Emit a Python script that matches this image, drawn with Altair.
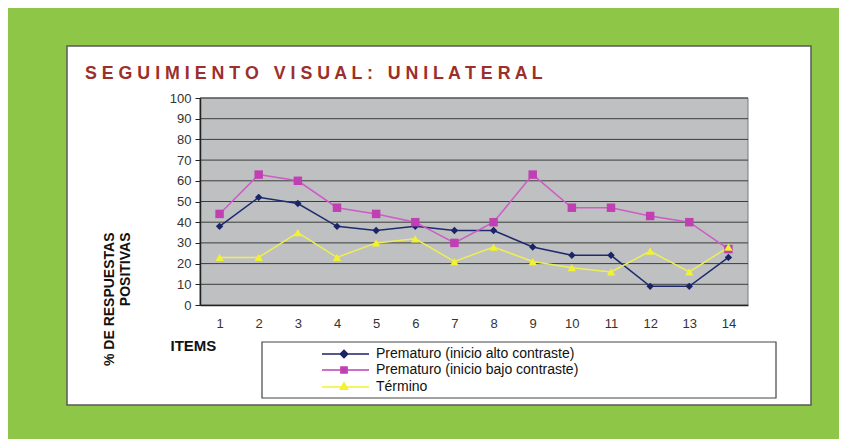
import altair as alt
import pandas as pd

# ---- data ----
items = list(range(1, 15))
alto = [38, 52, 49, 38, 36, 38, 36, 36, 28, 24, 24, 9, 9, 23]
bajo = [44, 63, 60, 47, 44, 40, 30, 40, 63, 47, 47, 43, 40, 27]
termino = [23, 23, 35, 23, 30, 32, 21, 28, 21, 18, 16, 26, 16, 28]
series = [
    "Prematuro (inicio alto contraste)",
    "Prematuro (inicio bajo contraste)",
    "Término",
]
grid_values = list(range(10, 101, 10))
y_ticks = list(range(0, 101, 10))
NB = "\u00a0"
title_text = (
    "S E G U I M I E N T O" + NB * 3 + "V I S U A L :" + NB * 3 + "U N I L A T E R A L"
)

rows = []
for s, vals in zip(series, [alto, bajo, termino]):
    for i, v in zip(items, vals):
        rows.append({"item": i, "serie": s, "valor": v})
df = pd.DataFrame(rows)

W, H = 548, 207
FONT = "Liberation Sans"

line_colors = ["#1F2A6E", "#CF5BC6", "#EEEE55"]
marker_colors = ["#1B2566", "#C040B4", "#F2F230"]
marker_shapes = ["diamond", "square", "triangle-up"]
marker_sizes = [55, 72, 70]


# legend symbol: a line with a (solid-looking) marker drawn by concentric outlines
def _diamond(cx, r):
    return f"M{cx},{-r}L{cx + r},0L{cx},{r}L{cx - r},0Z"


def _square(cx, r):
    return f"M{cx - r},{-r}H{cx + r}V{r}H{cx - r}Z"


def _triangle(cx, r):
    return f"M{cx},{-r}L{cx + 0.87 * r:.3f},{0.5 * r}L{cx - 0.87 * r:.3f},{0.5 * r}Z"


LINE = "M-8.8,0H0.6"
CX = -4.4
legend_paths = [
    LINE + "".join(_diamond(CX, r) for r in (0.75, 0.5, 0.25)),
    LINE + "".join(_square(CX, r) for r in (0.62, 0.36, 0.1)),
    LINE + "".join(_triangle(CX, r) for r in (0.85, 0.55, 0.25)),
]

yscale = alt.Scale(domain=[0, 100], nice=False)
X = alt.X(
    "item:O",
    scale=alt.Scale(type="point", padding=0.5),
    axis=alt.Axis(
        labelAngle=0, ticks=False, domainColor="#222", domainWidth=1.5,
        labelPadding=12, labelFont=FONT, labelFontSize=13, labelColor="#333",
        title="ITEMS", titleX=-30, titleY=40, titleAlign="left",
        titleBaseline="middle", titleFont=FONT, titleFontSize=15,
        titleFontWeight="bold", titleColor="#111", zindex=1,
    ),
)
y_axis = alt.Axis(
    values=y_ticks, grid=False, tickSize=5, tickColor="#222",
    domainColor="#222", domainWidth=1.5, labelPadding=4,
    labelFont=FONT, labelFontSize=13, labelColor="#333",
    title=["% DE RESPUESTAS", "POSITIVAS"], titleX=-91, titleY=134,
    titleAngle=270, titleAlign="right", titleBaseline="middle",
    titleFont=FONT, titleFontSize=14, titleFontWeight="bold",
    titleColor="#111", zindex=1,
)
Y = alt.Y("valor:Q", scale=yscale, axis=y_axis)

one = pd.DataFrame({"k": [1]})
frame = alt.Chart(one).mark_rect(fill="white", stroke="#5a5a5a", strokeWidth=1.5).encode(
    x=alt.value(-133), x2=alt.value(611), y=alt.value(-52), y2=alt.value(307)
)
plotbg = alt.Chart(one).mark_rect(fill="#BEC0C2", stroke="#7a7a7a", strokeWidth=1).encode(
    x=alt.value(0), x2=alt.value(W), y=alt.value(0), y2=alt.value(H)
)
legendbox = alt.Chart(one).mark_rect(fill="white", stroke="#444", strokeWidth=1.2).encode(
    x=alt.value(62), x2=alt.value(576), y=alt.value(244), y2=alt.value(300)
)
grid = alt.Chart(pd.DataFrame({"g": grid_values})).mark_rule(color="#3c3c3c", strokeWidth=1).encode(
    y=alt.Y("g:Q", scale=yscale, axis=y_axis), x=alt.value(0), x2=alt.value(W)
)

series_layers = []
for s, lc in zip(series, line_colors):
    sub = df[df["serie"] == s]
    series_layers.append(
        alt.Chart(sub).mark_line(strokeWidth=1.5, color=lc).encode(x=X, y=Y)
    )
for s, mc, shp, sz in zip(series, marker_colors, marker_shapes, marker_sizes):
    sub = df[df["serie"] == s]
    series_layers.append(
        alt.Chart(sub).mark_point(
            filled=True, opacity=1, fill=mc, shape=shp, size=sz, strokeWidth=0
        ).encode(x=X, y=Y)
    )

leg = alt.Legend(
    title=None, orient="none", legendX=159, legendY=249, padding=0,
    labelFont=FONT, labelFontSize=14, labelColor="#111", labelLimit=600,
    symbolSize=100, symbolStrokeWidth=1.5, symbolOpacity=1,
    rowPadding=2, labelOffset=3, zindex=1,
)
legend_layer = alt.Chart(df).mark_point(filled=False, opacity=0, strokeWidth=1.5).encode(
    x=X, y=Y,
    color=alt.Color("serie:N", scale=alt.Scale(domain=series, range=marker_colors), legend=leg),
    shape=alt.Shape("serie:N", scale=alt.Scale(domain=series, range=legend_paths), legend=leg),
)

chart = (
    alt.layer(frame, plotbg, legendbox, grid, *series_layers, legend_layer)
    .properties(
        width=W, height=H,
        autosize=alt.AutoSizeParams(type="none"),
        padding={"left": 192, "top": 90, "right": 91, "bottom": 134},
        background="#8EC648",
        title=alt.TitleParams(
            text=title_text, anchor="start", frame="group", dx=-115, dy=55, offset=17,
            font=FONT, fontSize=17.8, fontWeight="bold", color="#9C2F2A",
        ),
    )
    .configure_view(stroke=None)
)

chart.save("out.html", embed_options={"renderer": "svg", "actions": False})
